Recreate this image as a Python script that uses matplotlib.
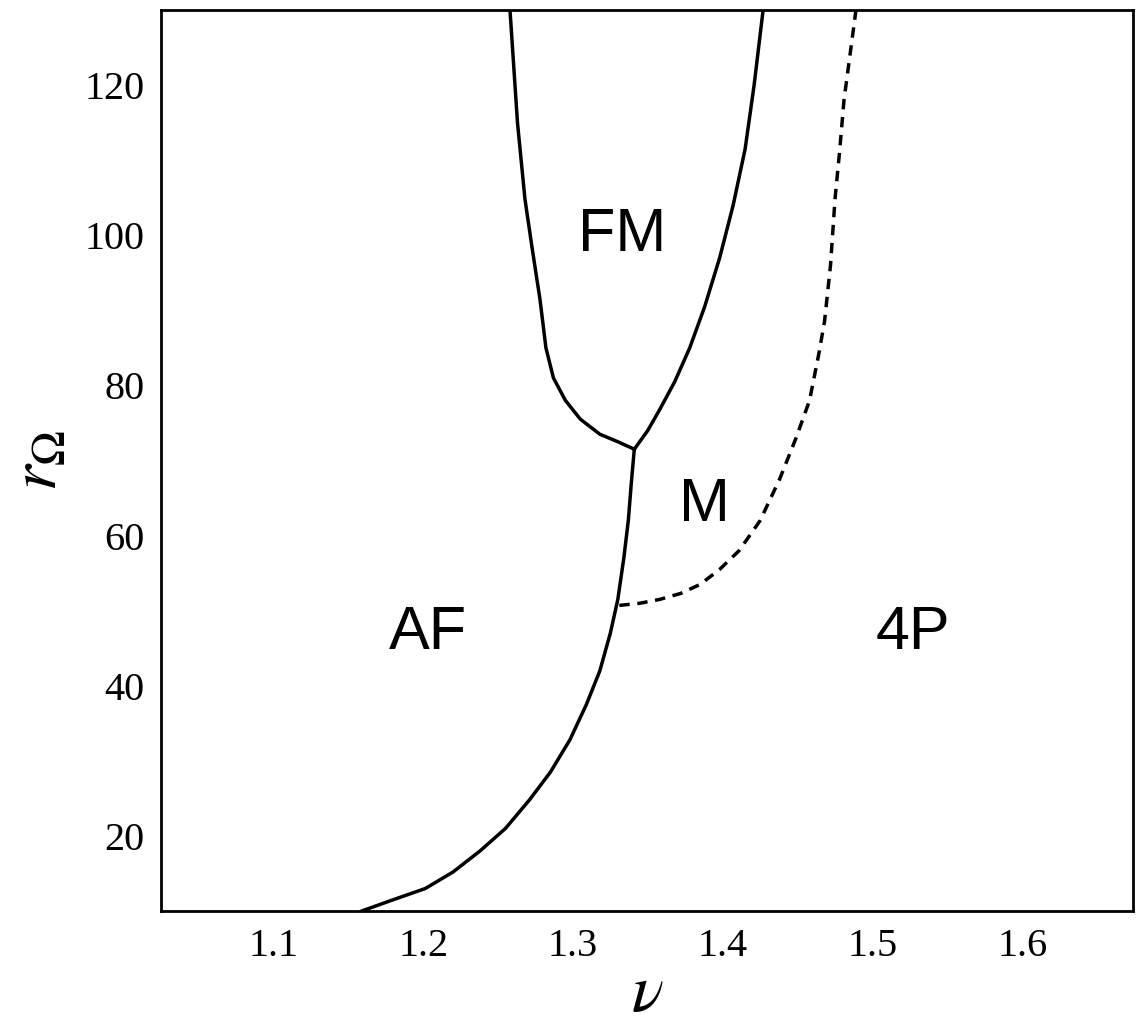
import matplotlib
matplotlib.use("Agg")
import matplotlib.pyplot as plt

plt.rcParams["mathtext.fontset"] = "stix"

af_x = [1.159, 1.18, 1.2015, 1.22, 1.238, 1.255, 1.271, 1.285, 1.298, 1.309, 1.318, 1.325, 1.330, 1.334, 1.337, 1.339, 1.341]
af_y = [10, 11.5, 13, 15.2, 18, 21, 24.8, 28.5, 32.8, 37.5, 42, 47, 51.5, 57, 62, 67, 71.5]
fml_x = [1.341, 1.330, 1.318, 1.305, 1.295, 1.287, 1.282, 1.278, 1.273, 1.268, 1.263, 1.258]
fml_y = [71.5, 72.5, 73.5, 75.5, 78, 81, 85, 91.5, 98, 104.8, 115, 130]
fmr_x = [1.341, 1.350, 1.358, 1.368, 1.378, 1.388, 1.398, 1.407, 1.415, 1.421, 1.427]
fmr_y = [71.5, 74, 76.8, 80.5, 85, 90.5, 97, 104, 111.5, 120, 130]
d_x = [1.331, 1.345, 1.358, 1.372, 1.385, 1.398, 1.411, 1.425, 1.438, 1.449, 1.458, 1.464, 1.468, 1.472, 1.475, 1.478, 1.481, 1.485, 1.489]
d_y = [50.7, 51, 51.5, 52.3, 53.5, 55.5, 58, 62, 67.5, 73, 78, 84, 88.5, 96, 104.8, 111, 118, 124, 130]
labels = [("FM", 1.333, 100), ("M", 1.388, 64), ("AF", 1.203, 47), ("4P", 1.527, 47)]
xticks = [1.1, 1.2, 1.3, 1.4, 1.5, 1.6]
yticks = [20, 40, 60, 80, 100, 120]

fig = plt.figure(figsize=(11.46, 10.33), dpi=100)
ax = fig.add_axes([0.1405, 0.1181, 0.8482, 0.8722])
for xs, ys in [(af_x, af_y), (fml_x, fml_y), (fmr_x, fmr_y)]:
    ax.plot(xs, ys, color="black", lw=2.5, solid_joinstyle="round")
ax.plot(d_x, d_y, color="black", lw=2.5, ls=(0, (3, 2.2)))
for t, x, y in labels:
    ax.text(x, y, t, fontsize=44, family="Liberation Sans", ha="center", va="center")
ax.set_xlim(1.025, 1.674)
ax.set_ylim(10, 130)
ax.set_xticks(xticks)
ax.set_xticklabels([f"{v:.1f}" for v in xticks])
ax.set_yticks(yticks)
ax.tick_params(direction="in", length=0, labelsize=29, pad=12)
for lab in ax.get_xticklabels() + ax.get_yticklabels():
    lab.set_family("Liberation Serif")
for s in ax.spines.values():
    s.set_linewidth(2)
ax.set_xlabel(r"$\nu$", fontsize=48, labelpad=-4)
ax.set_ylabel(r"$r_\Omega$", fontsize=48, labelpad=10)
fig.savefig("out.png")
